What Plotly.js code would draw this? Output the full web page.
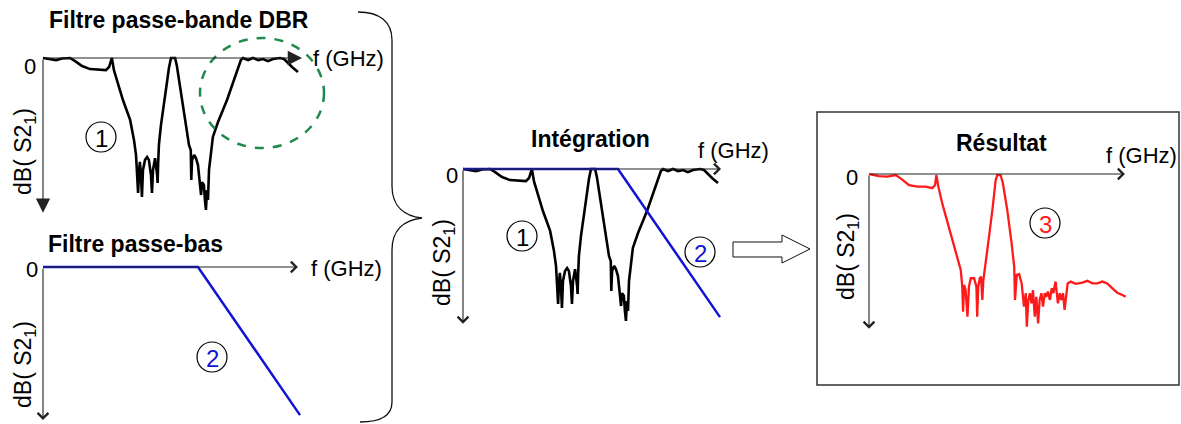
<!DOCTYPE html>
<html>
<head>
<meta charset="utf-8">
<script src="https://cdn.plot.ly/plotly-3.0.1.min.js"></script>
<style>
  body { margin: 0; background: #fff; }
  #chart { width: 1181px; height: 424px; }
</style>
</head>
<body>
<div id="chart"></div>
<script>
// DBR band-pass filter response (f in arbitrary units, dB)
var dbrFreq = [0, 2.7, 5.1, 7.4, 10.5, 12.5, 15.2, 18.3, 22.2, 24.5, 25.7, 26.5, 26.8, 27.6, 28.8,
    31.1, 33.9, 35.4, 36.2, 36.6, 37.0, 37.4, 37.7, 38.1, 38.5, 38.9, 39.7, 40.5, 41.2, 42.0,
    42.4, 42.8, 43.6, 44.4, 44.6, 44.8, 45.1, 45.9, 47.1, 48.2, 49.0, 49.8, 50.6, 51.4, 52.1,
    53.3, 54.5, 55.6, 56.8, 57.5, 57.7, 58.0, 58.8, 59.5, 60.3, 61.1, 61.5, 61.9, 62.6, 63.0,
    63.4, 63.8, 64.2, 64.6, 65.4, 66.1, 68.1, 70.0, 71.6, 73.9, 75.9, 77.0, 77.8, 79.8, 81.7,
    83.7, 85.6, 87.5, 89.5, 92.2, 93.8, 94.9, 96.9, 99.2];
var dbrS21 = [0, -0.4, -0.8, -0.2, 0, -1.2, -3.1, -4.3, -4.7, -4.7, -3.5, -0.8, 0, -4.7, -8.5,
    -16.3, -24, -31.8, -37.6, -45.3, -52.3, -43.4, -40.3, -45.3, -53.9, -43.4, -39.5, -38.4, -39.5, -45.3,
    -52.3, -43.4, -38.8, -45.3, -48.4, -41.1, -33.7, -26, -16.3, -9.7, -3.9, 0, 0, 0, -3.1,
    -10.5, -18.2, -26, -33.7, -35.7, -47.3, -39.5, -37.6, -38.8, -41.5, -49.2, -53.1, -48.1, -49.2, -55,
    -58.9, -51.2, -55, -43.4, -35.7, -30.6, -24.8, -20.2, -16.3, -9.7, -3.9, -0.8, 0, -0.8, 0,
    -0.8, -0.4, -1.2, -0.4, 0, -0.4, -1.6, -3.5, -5.4];

// low-pass filter response
var lpfFreq = [0, 60.3, 100];
var lpfS21 = [0, 0, -57.4];

// combined result
var resFreq = [0, 3.9, 7.1, 10.4, 12.3, 15.6, 18.8, 22.1, 24.6, 25.7, 26.2, 27.0, 28.5, 31.1, 33.7,
    35.7, 36.3, 36.6, 37.0, 37.6, 38.3, 38.9, 39.6, 40.9, 41.8, 42.1, 42.5, 43.1, 43.6, 44.1,
    44.5, 45.4, 46.7, 48.0, 49.3, 49.9, 51.2, 52.1, 53.8, 55.5, 56.5, 56.8, 57.5, 58.4, 59.4,
    60.3, 61.0, 61.4, 62.0, 62.6, 63.2, 63.8, 64.5, 65.1, 65.8, 66.4, 67.1, 67.7, 68.4, 69.0,
    69.6, 70.4, 71.1, 71.7, 72.6, 73.5, 74.2, 74.8, 75.5, 76.1, 76.8, 77.3, 78.5, 80.4, 83.0,
    85.0, 86.9, 88.8, 90.8, 92.7, 94.7, 96.6, 98.6, 99.9];
var resS21 = [0, -0.8, -1.0, -0.4, -1.7, -4.3, -4.9, -4.9, -5.5, -4.3, -0.4, -4.9, -11.4, -20.4, -29.5,
    -37.2, -43.7, -53.4, -43, -45, -55.3, -43.7, -40.4, -40.4, -43.7, -55.3, -43.7, -40.4, -39.8, -48.8,
    -41.1, -33.3, -24.3, -14, -2.3, -0.4, -0.4, -3.6, -14, -26.9, -35.9, -48.8, -39.1, -38.8, -42.4,
    -51.4, -46.2, -59.2, -48.8, -46.2, -50.1, -45, -55.3, -47.6, -57.9, -48.8, -46.2, -51.4, -46.2, -47.6,
    -45.6, -48.8, -44.3, -46.2, -41.7, -50.1, -46.2, -48.8, -46.2, -52.7, -47.6, -42.4, -41.7, -42.6, -42.1,
    -41.4, -42.4, -42.4, -41.7, -42.4, -44.3, -46, -46.9, -47.6];

var W = 1181, H = 424;
var KX = 2.57, KY = 2.58;          // px per unit
var XR = [-2, 104], YR = [-60.5, 3];
var FONT = 'Liberation Sans, Arial, Helvetica, sans-serif';
var BLUE = '#1414d2', RED = '#ff1a1a', GREEN = '#1f8a4c';

function px(x) { return x / W; }
function py(y) { return 1 - y / H; }

function axes(ox, oy) {
    return {
        x: { domain: [px(ox + XR[0] * KX), px(ox + XR[1] * KX)], range: XR, visible: false, fixedrange: true },
        y: { domain: [py(oy - YR[0] * KY), py(oy - YR[1] * KY)], range: YR, visible: false, fixedrange: true }
    };
}

var a1 = axes(43, 58), a2 = axes(43, 267), a3 = axes(463, 169), a4 = axes(869, 174);

var traces = [
    { x: dbrFreq, y: dbrS21, xaxis: 'x', yaxis: 'y', mode: 'lines', line: { color: '#000', width: 2.6 } },
    { x: lpfFreq, y: lpfS21, xaxis: 'x2', yaxis: 'y2', mode: 'lines', line: { color: BLUE, width: 2.5 } },
    { x: dbrFreq, y: dbrS21, xaxis: 'x3', yaxis: 'y3', mode: 'lines', line: { color: '#000', width: 2.6 } },
    { x: lpfFreq, y: lpfS21, xaxis: 'x3', yaxis: 'y3', mode: 'lines', line: { color: BLUE, width: 2.5 } },
    { x: resFreq, y: resS21, xaxis: 'x4', yaxis: 'y4', mode: 'lines', line: { color: RED, width: 2.3 } }
];

var ann = [];

// axis arrows
function arrow(xr, yr, tx, ty, head, size) {
    ann.push({ xref: xr, yref: yr, axref: xr, ayref: yr, x: tx, y: ty, ax: 0, ay: 0, text: '',
        showarrow: true, arrowhead: head, arrowsize: size, arrowwidth: 1.1, arrowcolor: '#222', standoff: 0 });
}
arrow('x', 'y', 100.8, 0, 2, 2.6);
arrow('x', 'y', 0, -60, 2, 2.6);
arrow('x2', 'y2', 99.2, 0, 4, 1.9);
arrow('x2', 'y2', 0, -59.3, 4, 1.9);
arrow('x3', 'y3', 100.4, 0, 4, 1.9);
arrow('x3', 'y3', 0, -60, 4, 1.9);
arrow('x4', 'y4', 99.6, 0, 4, 1.9);
arrow('x4', 'y4', 0, -60, 4, 1.9);

function label(text, x, y, size, opts) {
    var a = { xref: 'paper', yref: 'paper', x: px(x), y: py(y), text: text, showarrow: false,
        xanchor: 'center', yanchor: 'middle', font: { family: FONT, size: size, color: '#000' } };
    if (opts) for (var k in opts) a[k] = opts[k];
    ann.push(a);
}

// titles
label('<b>Filtre passe-bande DBR</b>', 179, 20, 23);
label('<b>Filtre passe-bas</b>', 135, 244, 23);
label('<b>Intégration</b>', 590, 139, 23);
label('<b>Résultat</b>', 1001, 143, 23);

// zero labels
[[30, 66], [32, 269], [452, 175], [852, 177]].forEach(function (p) { label('0', p[0], p[1], 22); });
// f axis labels
[[348, 59], [346, 268], [733, 150], [1141, 155]].forEach(function (p) { label('f (GHz)', p[0], p[1], 22); });
// dB axis labels
[[25, 152], [24, 364], [443, 263], [847, 257]].forEach(function (p) {
    label('dB( S2<sub>1</sub>)', p[0], p[1], 23, { textangle: -90 });
});

// circled numbers
var circles = [[101, 137, '1', '#000'], [212, 357, '2', BLUE], [522, 236, '1', '#000'],
    [700, 252, '2', BLUE], [1045, 223, '3', RED]];
var shapes = [];
circles.forEach(function (c) {
    label(c[2], c[0], c[1] + 1, 24, { font: { family: FONT, size: 24, color: c[3] } });
    shapes.push({ type: 'circle', xref: 'paper', yref: 'paper', x0: px(c[0] - 15), x1: px(c[0] + 15),
        y0: py(c[1] + 15), y1: py(c[1] - 15), line: { color: '#000', width: 1.2 } });
});

// green dashed circle on panel 1
shapes.push({ type: 'circle', xref: 'paper', yref: 'paper', x0: px(200), x1: px(324), y0: py(148), y1: py(38),
    line: { color: GREEN, width: 2.5, dash: 'dash' } });

// curly brace
function P(x, y) { return px(x).toFixed(5) + ',' + py(y).toFixed(5); }
shapes.push({ type: 'path', xref: 'paper', yref: 'paper', line: { color: '#111', width: 1.3 },
    path: 'M' + P(358, 12) + ' C' + P(380, 12) + ' ' + P(392, 22) + ' ' + P(392, 40) +
        ' L' + P(392, 186) + ' C' + P(392, 206) + ' ' + P(404, 216) + ' ' + P(422, 218) +
        ' C' + P(404, 220) + ' ' + P(392, 230) + ' ' + P(392, 250) +
        ' L' + P(392, 402) + ' C' + P(392, 416) + ' ' + P(380, 422) + ' ' + P(360, 422) });

// block arrow
shapes.push({ type: 'path', xref: 'paper', yref: 'paper', line: { color: '#111', width: 1 }, fillcolor: '#fff',
    path: 'M' + P(733, 242) + ' L' + P(782, 242) + ' L' + P(782, 235) + ' L' + P(810, 249) +
        ' L' + P(782, 263) + ' L' + P(782, 257) + ' L' + P(733, 257) + ' Z' });

// result frame
shapes.push({ type: 'rect', xref: 'paper', yref: 'paper', x0: px(817), x1: px(1179), y0: py(385), y1: py(112),
    line: { color: '#333', width: 1.5 } });

var layout = {
    width: W, height: H,
    margin: { l: 0, r: 0, t: 0, b: 0 },
    paper_bgcolor: '#fff', plot_bgcolor: 'rgba(0,0,0,0)',
    showlegend: false,
    xaxis: Object.assign({ anchor: 'y' }, a1.x), yaxis: Object.assign({ anchor: 'x' }, a1.y),
    xaxis2: Object.assign({ anchor: 'y2' }, a2.x), yaxis2: Object.assign({ anchor: 'x2' }, a2.y),
    xaxis3: Object.assign({ anchor: 'y3' }, a3.x), yaxis3: Object.assign({ anchor: 'x3' }, a3.y),
    xaxis4: Object.assign({ anchor: 'y4' }, a4.x), yaxis4: Object.assign({ anchor: 'x4' }, a4.y),
    annotations: ann,
    shapes: shapes
};

Plotly.newPlot('chart', traces, layout, { staticPlot: true, displayModeBar: false });
</script>
</body>
</html>
